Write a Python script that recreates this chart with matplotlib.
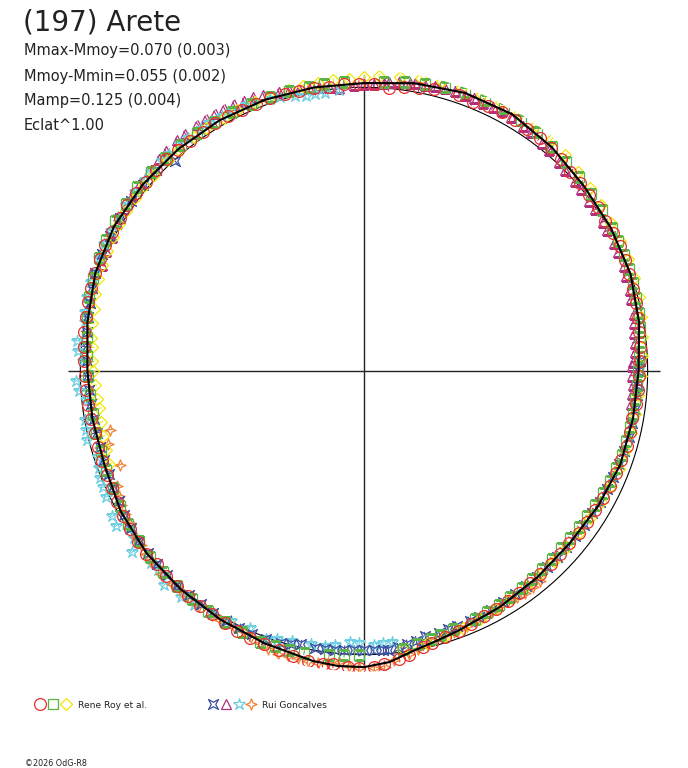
import numpy as np
import matplotlib
matplotlib.use("Agg")
import matplotlib.pyplot as plt
from matplotlib.path import Path

# polar lightcurve of (197) Arete: phase angle (deg, clockwise from top), relative radius
title = "(197) Arete"
stats_lines = ["Mmax-Mmoy=0.070 (0.003)", "Mmoy-Mmin=0.055 (0.002)",
               "Mamp=0.125 (0.004)", "Eclat^1.00"]
observers = ["Rene Roy et al.", "Rui Goncalves"]

# Rene Roy et al. - session 1 (red circles)
rr1_deg = [2, 8, 14, 19, 25, 31, 37, 43, 49, 55, 61, 67, 73, 79, 85, 91, 97, 103, 109, 115,
           121, 127, 133, 139, 145, 151, 157, 163, 168, 173, 178, 183, 188, 194, 200, 206,
           212, 218, 224, 230, 236, 242, 248, 254, 260, 266, 272, 278, 284, 290, 296, 302,
           308, 314, 320, 326, 332, 338, 344, 350, 356,
           5, 11, 22, 28, 34, 40, 46, 52, 58, 64, 70, 76, 82, 88, 94, 100, 106, 112, 118,
           124, 130, 136, 142, 148, 154, 160, 166, 171, 176, 181, 186, 191, 197, 203, 209,
           215, 221, 227, 233, 239, 245, 251, 257, 263, 269, 275, 281, 287, 293, 299, 305,
           311, 317, 323, 329, 335, 341, 347, 353, 359]
rr1_r = [1.012, 1.010, 1.025, 1.028, 1.032, 1.034, 1.030, 1.020, 1.010, 1.005, 1.002, 0.998,
         0.992, 0.985, 0.975, 0.968, 0.966, 0.962, 0.960, 0.956, 0.951, 0.947, 0.944, 0.948,
         0.954, 0.960, 0.968, 0.980, 0.996, 1.022, 1.043, 1.046, 1.042, 1.035, 1.026, 1.018,
         1.012, 1.008, 1.004, 1.001, 0.996, 0.985, 0.978, 0.975, 0.978, 0.984, 0.988, 0.995,
         1.003, 1.010, 1.015, 1.016, 1.018, 1.020, 1.018, 1.016, 1.018, 1.016, 1.014, 1.012,
         1.015,
         1.002, 1.015, 1.022, 1.035, 1.028, 1.024, 1.012, 1.008, 1.000, 1.003, 0.995, 0.990,
         0.978, 0.972, 0.970, 0.960, 0.963, 0.957, 0.955, 0.950, 0.943, 0.947, 0.950, 0.958,
         0.962, 0.975, 0.990, 1.012, 1.036, 1.048, 1.040, 1.040, 1.030, 1.024, 1.014, 1.010,
         1.006, 1.000, 0.999, 0.990, 0.980, 0.975, 0.972, 0.980, 0.985, 0.990, 0.998, 1.006,
         1.012, 1.014, 1.019, 1.016, 1.021, 1.017, 1.019, 1.015, 1.017, 1.013, 1.010, 1.012]
# session 2 (green squares)
rr2_deg = [4, 12, 20, 28, 36, 44, 52, 60, 66, 72, 78, 84, 90, 96, 102, 108, 114, 120, 126,
           132, 138, 144, 150, 156, 161, 166, 172, 181, 187, 192, 198, 205, 213, 221, 229,
           237, 245, 253, 261, 269, 277, 285, 293, 301, 309, 317, 325, 333, 341, 349, 356,
           8, 16, 24, 32, 40, 48, 56, 63, 69, 75, 81, 87, 93, 99, 105, 111, 117, 123, 129,
           135, 141, 147, 153, 164, 169, 184, 195, 201, 209, 217, 225, 233, 241, 249, 257,
           265, 273, 281, 289, 297, 305, 313, 321, 329, 337, 345, 352]
rr2_r = [1.022, 1.035, 1.046, 1.048, 1.040, 1.025, 1.015, 1.008, 1.004, 0.998, 0.990, 0.978,
         0.965, 0.960, 0.958, 0.955, 0.950, 0.942, 0.936, 0.935, 0.938, 0.945, 0.952, 0.958,
         0.962, 0.975, 0.990, 1.000, 1.008, 1.015, 1.020, 1.015, 1.010, 1.004, 0.998, 0.990,
         0.978, 0.970, 0.968, 0.972, 0.985, 1.004, 1.015, 1.024, 1.028, 1.027, 1.026, 1.024,
         1.022, 1.020, 1.020,
         1.028, 1.040, 1.047, 1.045, 1.033, 1.020, 1.012, 1.006, 1.000, 0.994, 0.985, 0.970,
         0.962, 0.959, 0.956, 0.952, 0.946, 0.939, 0.935, 0.936, 0.942, 0.948, 0.955, 0.968,
         0.982, 1.004, 1.018, 1.022, 1.012, 1.007, 1.001, 0.994, 0.984, 0.974, 0.969, 0.970,
         0.978, 0.995, 1.010, 1.020, 1.026, 1.028, 1.027, 1.025, 1.023, 1.021, 1.020]
# session 3 (yellow diamonds)
rr3_deg = [0, 7, 15, 23, 31, 39, 47, 55, 63, 71, 79, 87, 95, 103, 111, 119, 127, 135, 143,
           151, 159, 167, 172, 250, 256, 262, 267, 272, 277, 283, 289, 295, 301, 307, 313,
           320, 327, 334, 341, 348, 354,
           3, 11, 19, 27, 35, 43, 51, 59, 67, 75, 83, 91, 99, 107, 115, 123, 131, 139, 147,
           155, 163, 253, 259, 264, 270, 275, 280, 286, 292, 298, 304, 310, 317, 324, 331,
           338, 345, 351, 357]
rr3_r = [1.035, 1.045, 1.058, 1.062, 1.062, 1.052, 1.030, 1.018, 1.012, 1.008, 0.995, 0.980,
         0.970, 0.965, 0.963, 0.955, 0.950, 0.946, 0.950, 0.958, 0.970, 0.985, 0.990, 0.955,
         0.948, 0.942, 0.950, 0.958, 0.968, 0.978, 0.992, 1.000, 1.008, 1.012, 1.014, 1.016,
         1.020, 1.022, 1.022, 1.026, 1.030,
         1.040, 1.052, 1.060, 1.063, 1.058, 1.040, 1.024, 1.015, 1.010, 1.002, 0.988, 0.975,
         0.967, 0.964, 0.959, 0.952, 0.948, 0.948, 0.954, 0.964, 0.978, 0.952, 0.945, 0.946,
         0.955, 0.962, 0.972, 0.985, 0.996, 1.004, 1.010, 1.013, 1.015, 1.018, 1.021, 1.022,
         1.024, 1.028, 1.032]

# Rui Goncalves - session 1 (blue)
rg1_deg = [88, 93, 98, 104, 110, 116, 122, 128, 134, 140, 146, 152, 157, 160, 164, 167, 171,
           175, 178, 182, 186, 190, 193, 197, 203, 209, 215, 221, 227, 233, 239, 245, 251,
           257, 263, 269, 275, 281, 287, 294, 302, 310, 318,
           90, 95, 101, 107, 113, 119, 125, 131, 137, 143, 149, 155, 162, 169, 173, 176, 180,
           184, 188, 195, 200, 206, 212, 218, 224, 230, 236, 242, 248, 254, 260, 266, 272,
           278, 284, 290, 298, 306, 314]
rg1_r = [0.975, 0.968, 0.965, 0.962, 0.958, 0.953, 0.948, 0.944, 0.945, 0.948, 0.950, 0.955,
         0.957, 0.955, 0.962, 0.960, 0.975, 0.987, 0.983, 0.984, 0.988, 0.990, 0.989, 1.002,
         1.008, 1.006, 1.004, 1.003, 0.998, 0.994, 0.985, 0.975, 0.968, 0.966, 0.968, 0.972,
         0.980, 0.990, 1.002, 1.012, 1.016, 1.018, 0.995,
         0.970, 0.966, 0.963, 0.960, 0.955, 0.950, 0.946, 0.944, 0.946, 0.949, 0.952, 0.956,
         0.958, 0.968, 0.982, 0.985, 0.984, 0.986, 0.989, 0.996, 1.006, 1.007, 1.005, 1.004,
         1.000, 0.996, 0.990, 0.980, 0.971, 0.967, 0.967, 0.970, 0.976, 0.985, 0.996, 1.008,
         1.014, 1.017, 1.019]
# session 2 (purple triangles)
rg2_deg = [292, 298, 304, 310, 316, 321, 326, 330, 334, 338, 343, 347, 351, 355, 358, 2, 5,
           9, 12, 16, 20, 24, 28, 33, 38, 43, 48, 53, 58, 63, 68, 73, 78, 82, 86, 89, 93, 97,
           295, 301, 307, 313, 318, 323, 328, 332, 336, 340, 345, 349, 353, 0, 4, 7, 10, 14,
           18, 22, 26, 30, 35, 40, 45, 50, 55, 60, 65, 70, 75, 80, 84, 88, 91, 95]
rg2_r = [0.995, 1.008, 1.020, 1.030, 1.040, 1.046, 1.050, 1.049, 1.046, 1.040, 1.030, 1.022,
         1.012, 1.002, 1.008, 1.012, 1.022, 1.028, 1.032, 1.038, 1.036, 1.035, 1.036, 1.031,
         1.022, 1.008, 1.000, 0.995, 0.992, 0.990, 0.988, 0.980, 0.972, 0.962, 0.957, 0.944,
         0.948, 0.950,
         1.002, 1.014, 1.025, 1.035, 1.043, 1.048, 1.050, 1.048, 1.043, 1.036, 1.026, 1.017,
         1.007, 1.010, 1.018, 1.025, 1.030, 1.035, 1.037, 1.036, 1.035, 1.034, 1.028, 1.016,
         1.004, 0.998, 0.993, 0.991, 0.989, 0.984, 0.976, 0.967, 0.960, 0.950, 0.946, 0.949]
# session 3 (cyan stars)
rg3_deg = [174, 178, 183, 188, 195, 200, 204, 212, 219, 223, 228, 232, 236, 240, 244, 248,
           252, 256, 260, 264, 268, 272, 276, 280, 285, 290, 296, 302, 308, 313, 318, 323,
           328, 333, 338, 343, 348, 352,
           176, 181, 186, 191, 198, 208, 216, 226, 234, 238, 246, 250, 258, 266, 274, 282,
           288, 293, 299, 305, 311, 316, 321, 326, 331, 336, 341, 346, 350, 355]
rg3_r = [0.960, 0.966, 0.957, 0.978, 0.985, 1.005, 0.992, 1.010, 1.026, 1.034, 1.012, 1.036,
         0.998, 1.025, 1.012, 1.004, 0.985, 1.005, 1.000, 0.985, 1.015, 0.990, 1.017, 1.000,
         1.012, 1.010, 1.018, 1.022, 1.024, 1.026, 1.028, 1.030, 1.030, 1.028, 1.024, 1.010,
         0.990, 0.990,
         0.963, 0.960, 0.970, 0.982, 0.995, 1.000, 1.020, 1.008, 1.002, 1.030, 1.008, 0.995,
         1.002, 1.008, 1.012, 1.006, 1.012, 1.016, 1.020, 1.023, 1.025, 1.027, 1.029, 1.030,
         1.029, 1.026, 1.015, 1.000, 0.990, 0.995]
# session 4 (orange 4-point stars)
rg4_deg = [140, 144, 148, 152, 156, 160, 163, 165, 169, 174, 176, 181, 185, 189, 193, 197,
           201, 205, 210, 215, 220, 225, 230, 234, 237, 241, 245, 249, 254, 257,
           142, 146, 150, 154, 158, 161, 167, 171, 178, 183, 187, 191, 195, 199, 203, 207,
           212, 218, 222, 228, 232, 239, 243]
rg4_r = [0.968, 0.966, 0.955, 0.962, 0.966, 0.972, 0.975, 0.976, 1.000, 1.024, 1.046, 1.047,
         1.030, 1.042, 1.040, 1.042, 1.027, 1.012, 1.015, 1.012, 1.010, 1.013, 1.002, 0.995,
         0.984, 0.978, 0.960, 0.922, 0.937, 0.919,
         0.968, 0.962, 0.958, 0.964, 0.969, 0.973, 0.988, 1.010, 1.046, 1.040, 1.038, 1.041,
         1.041, 1.035, 1.020, 1.013, 1.014, 1.011, 1.012, 1.008, 0.998, 0.982, 0.970]

# fitted curve
fit_deg = [0, 10, 20, 30, 40, 50, 60, 70, 80, 90, 100, 110, 120, 130, 140, 150, 160, 165,
           170, 175, 180, 185, 190, 200, 210, 220, 230, 240, 250, 260, 270, 280, 290, 300,
           310, 320, 330, 340, 350, 360]
fit_r = [1.015, 1.030, 1.043, 1.045, 1.030, 1.013, 1.006, 1.000, 0.985, 0.968, 0.963, 0.962,
         0.953, 0.946, 0.950, 0.960, 0.974, 0.985, 1.002, 1.030, 1.044, 1.044, 1.038, 1.022,
         1.012, 1.005, 1.000, 0.990, 0.973, 0.972, 0.975, 0.990, 1.008, 1.018, 1.020, 1.020,
         1.020, 1.018, 1.015, 1.015]

# marker shapes
star4_x = Path([(-1, -1), (0, -0.45), (1, -1), (0.45, 0), (1, 1), (0, 0.45), (-1, 1),
                (-0.45, 0), (-1, -1)], closed=True)
star4_plus = Path([(0, 1), (0.28, 0.28), (1, 0), (0.28, -0.28), (0, -1), (-0.28, -0.28),
                   (-1, 0), (-0.28, 0.28), (0, 1)], closed=True)

# (deg, r, marker, size, colour, radial error, draw order)
series = [
    (rr1_deg, rr1_r, "o", 8.5, "#e8302c", 0.013, 3.6),
    (rr2_deg, rr2_r, "s", 6.5, "#5cb347", 0.008, 3.5),
    (rr3_deg, rr3_r, "D", 5.8, "#f2e600", 0.008, 3.4),
    (rg1_deg, rg1_r, star4_x, 7.2, "#3a4ea0", 0.016, 3.3),
    (rg2_deg, rg2_r, "^", 7.5, "#b0307e", 0.010, 3.0),
    (rg3_deg, rg3_r, "*", 9.0, "#6ccfe0", 0.010, 3.1),
    (rg4_deg, rg4_r, star4_plus, 8.0, "#f08232", 0.012, 3.2),
]

fig = plt.figure(figsize=(6.88, 7.68), dpi=100)
R_MAX = 1.06
ax = fig.add_axes([0.0920, 0.1254, 0.8741, 0.7831], projection="polar")
ax.set_theta_zero_location("N")
ax.set_theta_direction(-1)
ax.set_ylim(0, R_MAX)
ax.set_axis_off()

# reference circle and cross
circ = np.linspace(0, 2 * np.pi, 361)
ax.plot(circ, np.ones_like(circ), color="black", lw=0.8, zorder=1)
ax.vlines(np.deg2rad([0, 90, 180, 270]), 0, 1.045, color="#222222", lw=1.0, zorder=1)

for deg, r, mk, ms, col, err, z in series:
    th = np.deg2rad(deg)
    ax.errorbar(th, r, yerr=err, fmt="none", ecolor=col, elinewidth=0.8, capsize=0, zorder=2)
    ax.plot(th, r, ls="none", marker=mk, ms=ms, mfc="none", mec=col, mew=0.9, zorder=z)

ax.plot(np.deg2rad(fit_deg), fit_r, color="black", lw=1.5, zorder=4)

# texts and legend in pixel coordinates
ov = fig.add_axes([0, 0, 1, 1])
ov.set_xlim(0, 688)
ov.set_ylim(768, 0)
ov.set_axis_off()
ov.patch.set_visible(False)

ov.text(23, 31, title, fontsize=20, color="#222222", va="baseline", ha="left")
for i, line in enumerate(stats_lines):
    ov.text(24, 55.5 + 25 * i, line, fontsize=10.5, color="#222222", va="baseline", ha="left")

leg_x = [[40, 53, 66], [213, 226, 239, 251]]
for g, xs in enumerate(leg_x):
    group = series[:3] if g == 0 else series[3:]
    for x, s in zip(xs, group):
        ov.plot(x, 704, ls="none", marker=s[2], ms=s[3], mfc="none", mec=s[4], mew=0.9)
ov.text(78, 708.5, observers[0], fontsize=6.6, color="#222222", va="baseline")
ov.text(262, 708.5, observers[1], fontsize=6.6, color="#222222", va="baseline")
ov.text(25, 766.5, "\u00a92026 OdG-R8", fontsize=5.8, color="#222222", va="baseline")

fig.savefig("out.png", dpi=100)
